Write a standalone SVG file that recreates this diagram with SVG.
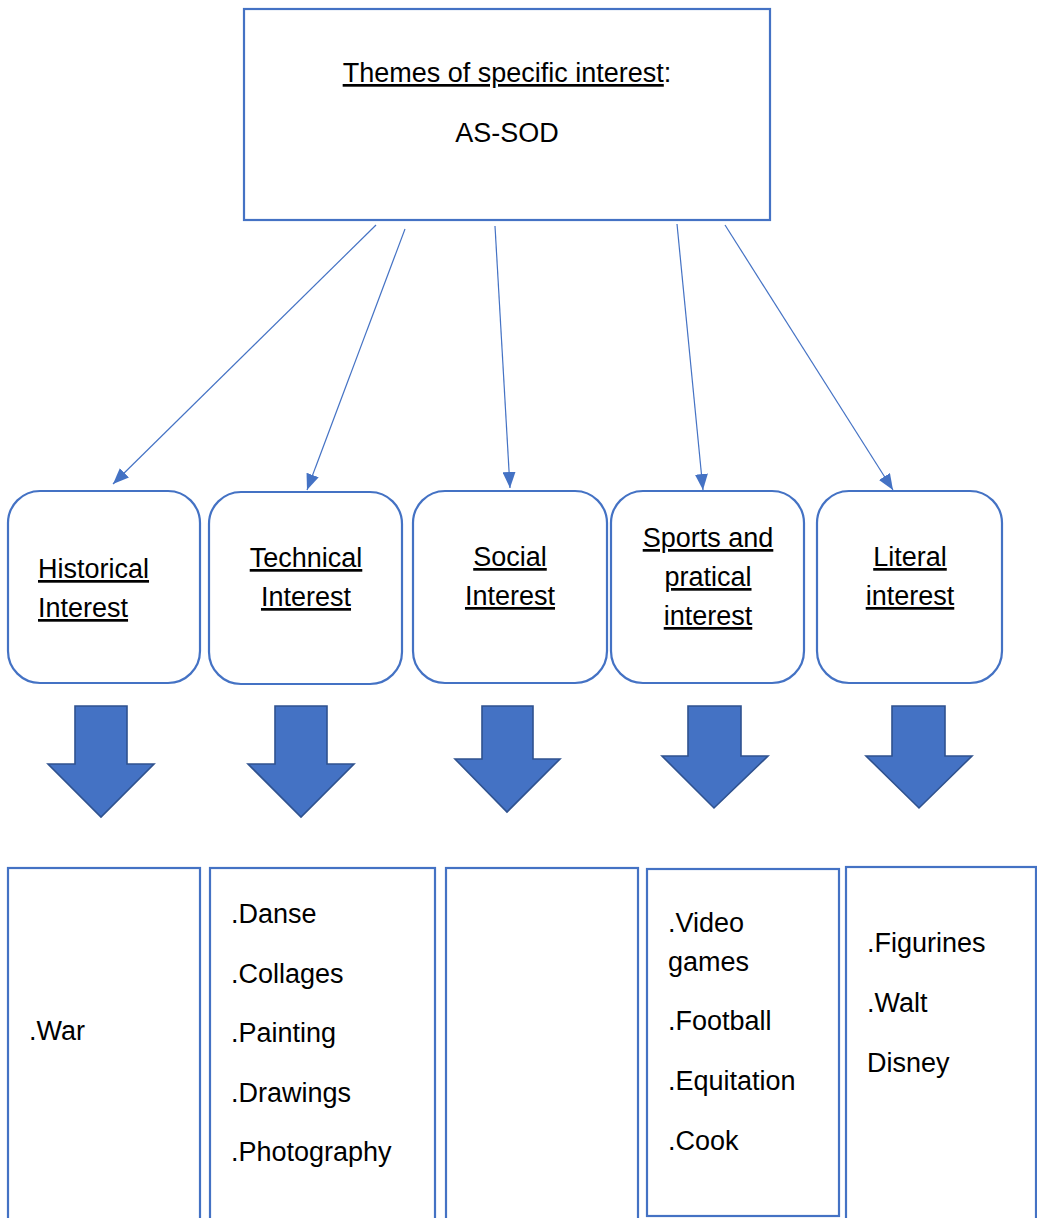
<svg xmlns="http://www.w3.org/2000/svg" width="1037" height="1218" viewBox="0 0 1037 1218">
<style>
  .box { fill: #ffffff; stroke: #4472C4; stroke-width: 2.2; }
  .conn { stroke: #4472C4; stroke-width: 1.2; fill: none; }
  .block { fill: #4472C4; stroke: #2F528F; stroke-width: 1.6; }
  text { font-family: "Liberation Sans", Arial, sans-serif; font-size: 27px; fill: #000000; }
  .u { text-decoration: underline; }
  .c { text-anchor: middle; }
</style>
<defs>
  <marker id="ah" markerUnits="userSpaceOnUse" markerWidth="16" markerHeight="13" refX="16" refY="6.5" orient="auto">
    <path d="M0,0 L16,6.5 L0,13 Z" fill="#4472C4"/>
  </marker>
</defs>
<rect width="1037" height="1218" fill="#ffffff"/>

<g id="root">
  <rect class="box" x="244" y="9" width="526" height="211"/>
  <text class="c" x="507" y="82"><tspan class="u">Themes of specific interest</tspan>:</text>
  <text class="c" x="507" y="142">AS-SOD</text>
</g>

<g id="connectors">
  <line class="conn" x1="376" y1="225" x2="113" y2="484" marker-end="url(#ah)"/>
  <line class="conn" x1="405" y1="229" x2="307" y2="490" marker-end="url(#ah)"/>
  <line class="conn" x1="495" y1="226" x2="510" y2="488" marker-end="url(#ah)"/>
  <line class="conn" x1="677" y1="224" x2="703" y2="490" marker-end="url(#ah)"/>
  <line class="conn" x1="725" y1="225" x2="893" y2="490" marker-end="url(#ah)"/>
</g>

<g id="historical">
  <rect class="box" x="8" y="491" width="192" height="192" rx="32"/>
  <text class="u" x="38" y="578">Historical</text>
  <text class="u" x="38" y="617">Interest</text>
</g>
<g id="technical">
  <rect class="box" x="209" y="492" width="193" height="192" rx="32"/>
  <text class="u c" x="306" y="567">Technical</text>
  <text class="u c" x="306" y="606">Interest</text>
</g>
<g id="social">
  <rect class="box" x="413" y="491" width="194" height="192" rx="32"/>
  <text class="u c" x="510" y="566">Social</text>
  <text class="u c" x="510" y="605">Interest</text>
</g>
<g id="sports">
  <rect class="box" x="611" y="491" width="193" height="192" rx="32"/>
  <text class="u c" x="708" y="547">Sports and</text>
  <text class="u c" x="708" y="586">pratical</text>
  <text class="u c" x="708" y="625">interest</text>
</g>
<g id="literal">
  <rect class="box" x="817" y="491" width="185" height="192" rx="32"/>
  <text class="u c" x="910" y="566">Literal</text>
  <text class="u c" x="910" y="605">interest</text>
</g>

<g id="block-arrows">
  <path class="block" d="M75,706 H127 V764 H154 L101,817 L48,764 H75 Z"/>
  <path class="block" d="M275,706 H327 V764 H354 L301,817 L248,764 H275 Z"/>
  <path class="block" d="M482,706 H533 V759 H560 L507,812 L455,759 H482 Z"/>
  <path class="block" d="M688,706 H741 V756 H768 L714,808 L662,756 H688 Z"/>
  <path class="block" d="M892,706 H945 V756 H972 L919,808 L866,756 H892 Z"/>
</g>

<g id="list-historical">
  <rect class="box" x="8" y="868" width="192" height="370"/>
  <text x="29" y="1040">.War</text>
</g>
<g id="list-technical">
  <rect class="box" x="210" y="868" width="225" height="370"/>
  <text x="231" y="923">.Danse</text>
  <text x="231" y="983">.Collages</text>
  <text x="231" y="1042">.Painting</text>
  <text x="231" y="1102">.Drawings</text>
  <text x="231" y="1161">.Photography</text>
</g>
<g id="list-social">
  <rect class="box" x="446" y="868" width="192" height="370"/>
</g>
<g id="list-sports">
  <rect class="box" x="647" y="869" width="192" height="347"/>
  <text x="668" y="932">.Video</text>
  <text x="668" y="971">games</text>
  <text x="668" y="1030">.Football</text>
  <text x="668" y="1090">.Equitation</text>
  <text x="668" y="1150">.Cook</text>
</g>
<g id="list-literal">
  <rect class="box" x="846" y="867" width="190" height="370"/>
  <text x="867" y="952">.Figurines</text>
  <text x="867" y="1012">.Walt</text>
  <text x="867" y="1072">Disney</text>
</g>
</svg>
